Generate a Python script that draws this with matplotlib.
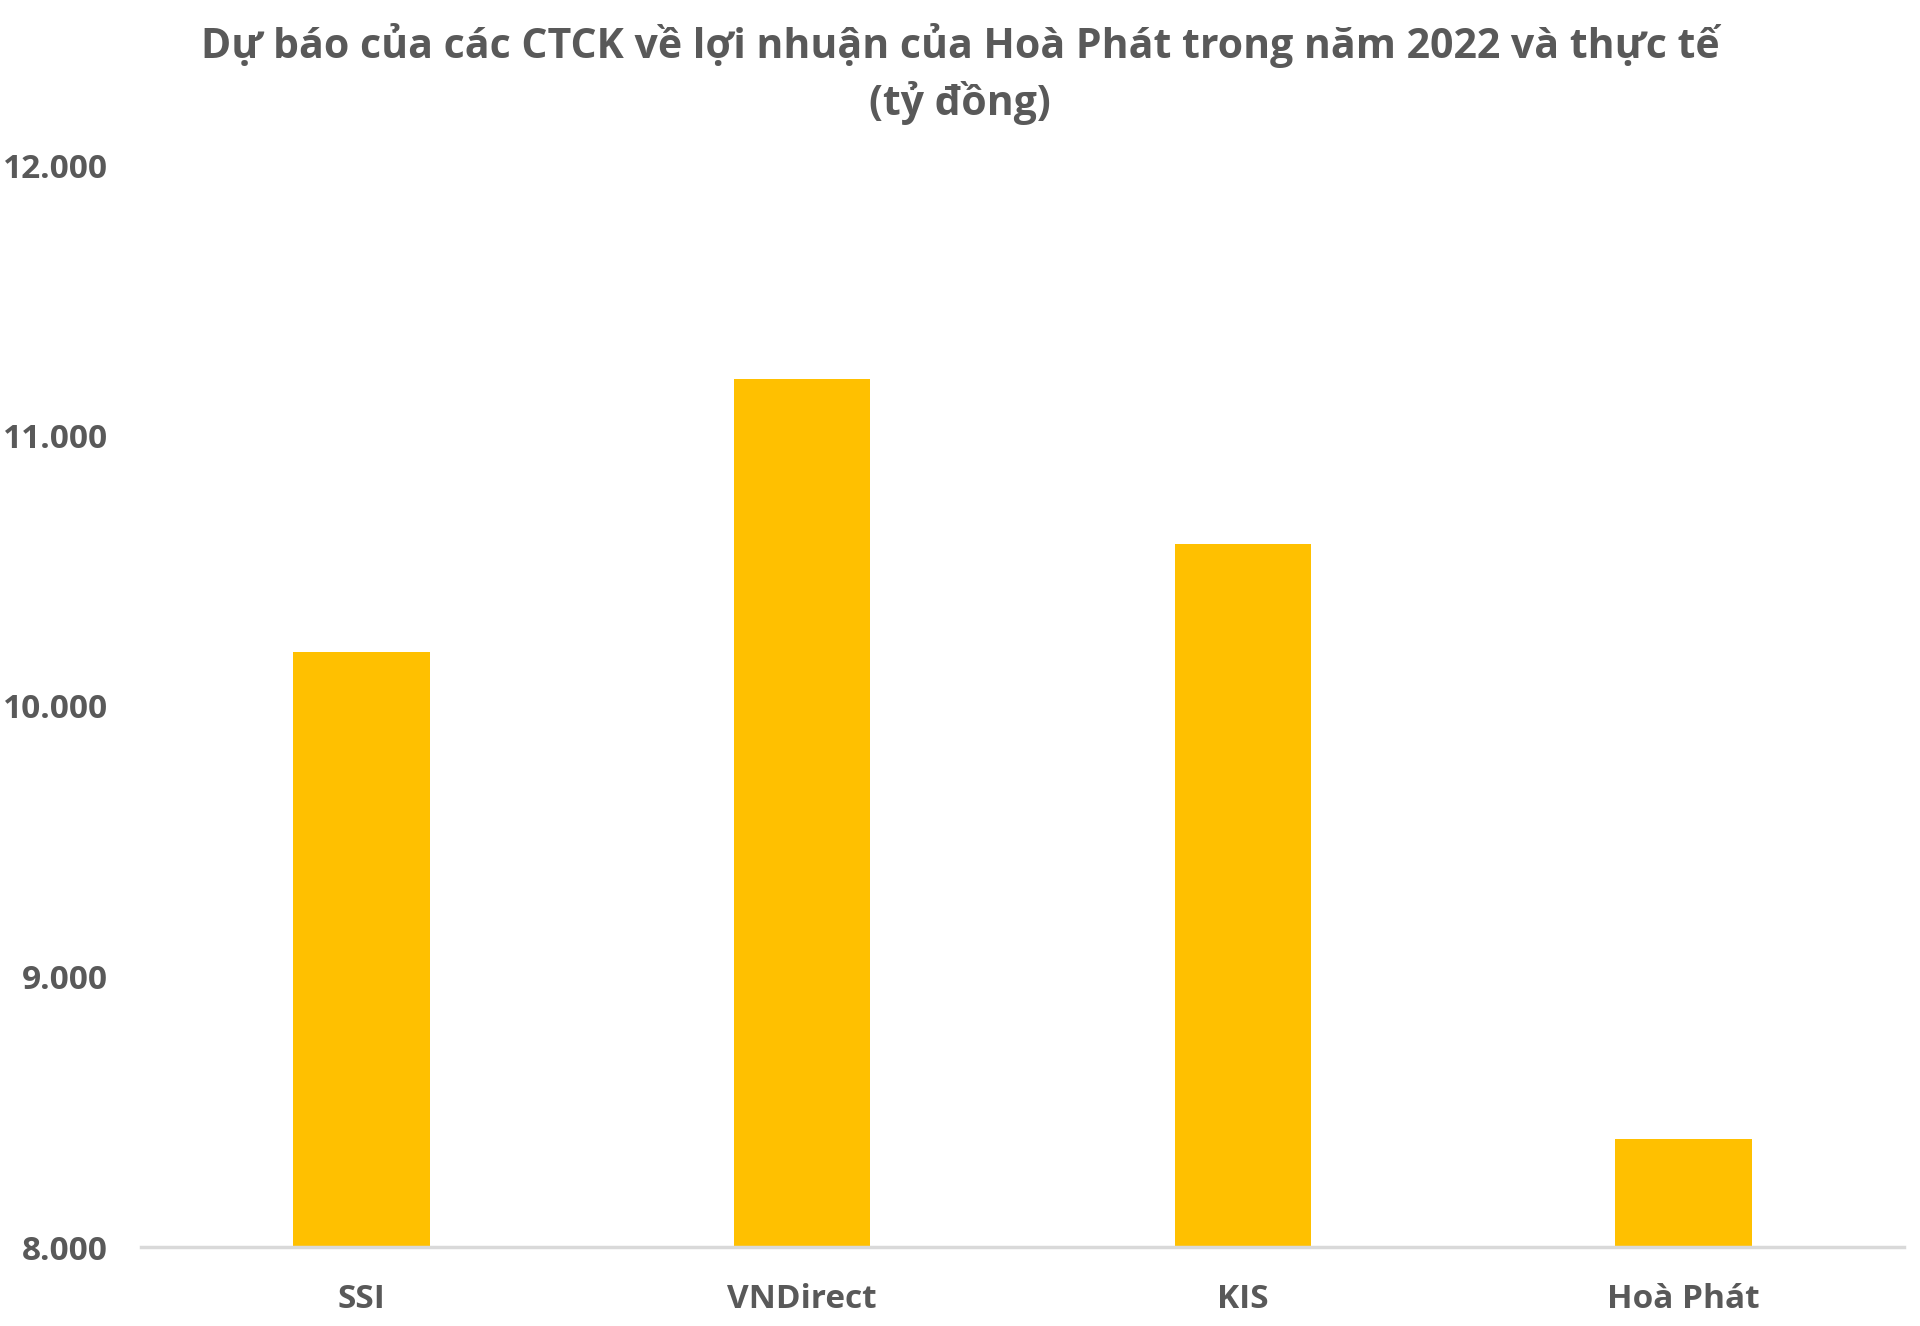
import matplotlib
matplotlib.use("Agg")
import matplotlib.pyplot as plt
from matplotlib.ticker import FuncFormatter

# dữ liệu
categories = ["SSI", "VNDirect", "KIS", "Hoà Phát"]
profits = [10200, 11210, 10600, 8400]
y_ticks = [8000, 9000, 10000, 11000, 12000]

plt.rcParams['font.family'] = ['Open Sans', 'DejaVu Sans']
text_color = "#595959"

fig = plt.figure(figsize=(19.2, 13.26), dpi=100)
ax = fig.add_axes([141 / 1920, 1 - 1247 / 1326, (1904 - 141) / 1920, (1247 - 165) / 1326])

ax.bar(range(len(categories)), profits, width=0.31, color="#FFC000", zorder=2)

ax.set_ylim(8000, 12000)
ax.set_xlim(-0.5, len(categories) - 0.5)
ax.set_yticks(y_ticks)
ax.yaxis.set_major_formatter(FuncFormatter(lambda v, p: f"{int(v):,}".replace(",", ".")))
ax.set_xticks(range(len(categories)))
ax.set_xticklabels(categories)

for s in ["top", "right", "left"]:
    ax.spines[s].set_visible(False)
ax.spines["bottom"].set_color("#D9D9D9")
ax.spines["bottom"].set_linewidth(2.5)
ax.tick_params(axis="both", length=0, labelsize=24, labelcolor=text_color)
ax.tick_params(axis="x", pad=26)
ax.tick_params(axis="y", pad=24)
for lbl in ax.get_xticklabels() + ax.get_yticklabels():
    lbl.set_fontweight("bold")

fig.text(0.5, 1 - 45 / 1326, "Dự báo của các CTCK về lợi nhuận của Hoà Phát trong năm 2022 và thực tế",
         ha="center", va="center", fontsize=29.5, fontweight="bold", color=text_color)
fig.text(0.5, 1 - 103 / 1326, "(tỷ đồng)",
         ha="center", va="center", fontsize=29.5, fontweight="bold", color=text_color)

fig.savefig("out.png", dpi=100, facecolor="white")
